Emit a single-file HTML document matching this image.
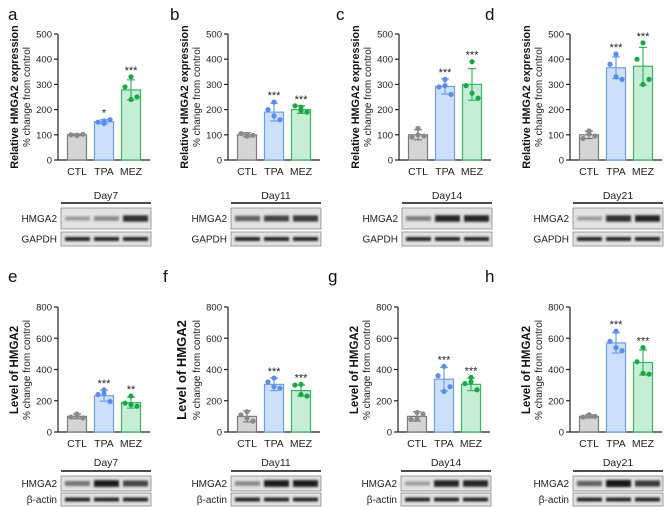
<!DOCTYPE html>
<html><head><meta charset="utf-8"><style>
body{margin:0;background:#fff}
svg{display:block;font-family:"Liberation Sans",Arial,sans-serif}
</style></head><body>
<svg id="fig" width="666" height="507" viewBox="0 0 666 507">
<defs>
<filter id="blur" x="-20%" y="-100%" width="140%" height="300%"><feGaussianBlur stdDeviation="1.1"/></filter>
</defs>
</svg>
<script>
const groups = ["CTL","TPA","MEZ"];
const panelLetters = ["a","b","c","d","e","f","g","h"];
const dayLabels = ["Day7","Day11","Day14","Day21","Day7","Day11","Day14","Day21"];
const means = [[100,152,278],[100,190,200],[100,292,300],[100,366,372],[100,232,188],[100,305,265],[100,338,305],[100,570,445]];
const sds = [[3,8,40],[8,35,15],[20,30,63],[15,43,75],[15,35,35],[35,40,35],[30,75,40],[10,65,80]];
const points = [
 [[97,100,102,99],[145,150,160,155],[330,290,250,240]],
 [[95,105,98,102],[230,200,160,175],[210,215,190,195]],
 [[125,90,95,100],[320,290,260,295],[390,295,245,265]],
 [[115,85,95,105],[420,380,320,330],[465,400,320,300]],
 [[115,95,90,100],[270,240,195,245],[230,185,165,175]],
 [[130,110,70,90],[345,320,280,290],[305,300,230,240]],
 [[125,80,115,85],[420,360,290,260],[350,310,270,320]],
 [[105,95,100,110],[645,580,520,540],[540,450,370,375]]];
const stars = [["","*","***"],["","***","***"],["","***","***"],["","***","***"],["","***","**"],["","***","***"],["","***","***"],["","***","***"]];
const topTicks = [0,100,200,300,400,500];
const botTicks = [0,200,400,600,800];
const hmgaBands = [[0.3,0.4,0.85],[0.6,0.75,0.8],[0.45,0.9,0.9],[0.3,0.85,0.9],[0.5,0.95,0.75],[0.4,0.95,0.95],[0.3,0.9,0.9],[0.6,1,0.8]];

const NS="http://www.w3.org/2000/svg";
const svg=document.getElementById('fig');
function mk(tag,attrs,parent,text){const e=document.createElementNS(NS,tag);for(const k in attrs)e.setAttribute(k,attrs[k]);if(text!==undefined)e.textContent=text;(parent||svg).appendChild(e);return e;}
const fills=["#d4d4d4","#cde0fb","#c6eed6"], strokes=["#7a7a7a","#6f9de8","#35b660"], dots=["#8a8a8a","#5a8de6","#1aa847"];
const axisXs=[58,228,399,570,58,228,398,570];
const letterX=[8,170,336,485,8,163,328,485];
const dx=[-6,-2,2,6];

for(let p=0;p<8;p++){
  const top=p<4, ax=axisXs[p];
  const y0= top?160:432, y1= top?34:307, vmax= top?500:800;
  const ticks= top?topTicks:botTicks;
  const Y=v=>y0-(v/vmax)*(y0-y1);
  const g=mk('g',{});
  
  
  const lt=mk('text',{x:letterX[p],y:top?20:282,'font-size':17,fill:'#111'},g,panelLetters[p]);
  
  const ya=mk('line',{x1:ax,y1:y1,x2:ax,y2:y0,stroke:'#222','stroke-width':1.2},g);
  
  const xa=mk('line',{x1:ax,y1:y0,x2:ax+92,y2:y0,stroke:'#222','stroke-width':1.2},g);
  
  ticks.forEach(t=>{
    mk('line',{x1:ax-4,y1:Y(t),x2:ax,y2:Y(t),stroke:'#222','stroke-width':1.2},g);
    const tl=mk('text',{x:ax-6,y:Y(t)+3.5,'font-size':9.5,'text-anchor':'end',fill:'#222'},g,t);
    
  });
  const cy=top?97:370;
  const t1=mk('text',{x:0,y:0,'font-size':top?10.8:(p===5?13:11.5),'font-weight':'bold','text-anchor':'middle',fill:'#111',transform:`translate(${ax-31-(top?9:(p===5?11:9))},${cy}) rotate(-90)`},g,top?"Relative HMGA2 expression":"Level of HMGA2");
  
  const t2=mk('text',{x:0,y:0,'font-size':10,'text-anchor':'middle',fill:'#222',transform:`translate(${ax-28},${cy}) rotate(-90)`},g,"% change from control");
  
  for(let i=0;i<3;i++){
    const cx=ax+19+i*27, m=means[p][i], s=sds[p][i];
    const b=mk('rect',{x:cx-9.5,y:Y(m),width:19,height:y0-Y(m),fill:fills[i],stroke:strokes[i],'stroke-width':1.2},g);
    
    mk('line',{x1:cx,y1:Y(m+s),x2:cx,y2:Y(m-s),stroke:strokes[i],'stroke-width':1.2},g);
    mk('line',{x1:cx-4,y1:Y(m+s),x2:cx+4,y2:Y(m+s),stroke:strokes[i],'stroke-width':1.2},g);
    mk('line',{x1:cx-4,y1:Y(m-s),x2:cx+4,y2:Y(m-s),stroke:strokes[i],'stroke-width':1.2},g);
    points[p][i].forEach((v,k)=>{
      const d=mk('circle',{cx:cx+[0,-6,6,0][k],cy:Y(v),r:2.6,fill:dots[i]},g);
      
    });
    if(stars[p][i]){
      const top2=Math.max(m+s,...points[p][i]);
      const st=mk('text',{x:cx,y:Y(top2)-3,'font-size':11,'text-anchor':'middle',fill:'#222'},g,stars[p][i]);
      
    }
    const xl=mk('text',{x:cx,y:y0+15,'font-size':10.5,'text-anchor':'middle',fill:'#222'},g,groups[i]);
    
  }
  const bx=ax+3, bw=90;
  const dayY=top?199:466, lineY=top?203:471;
  const b1=top?[208,21]:[476,15], b2=top?[232,14]:[493,13];
  const dl=mk('text',{x:bx+bw/2,y:dayY,'font-size':10.5,'text-anchor':'middle',fill:'#222'},g,dayLabels[p]);
  
  mk('line',{x1:bx,y1:lineY,x2:bx+bw,y2:lineY,stroke:'#111','stroke-width':1.5},g);
  [[b1,"HMGA2",hmgaBands[p]],[b2,top?"GAPDH":"β-actin",[0.9,0.9,0.9]]].forEach(([bb,name,ints],ri)=>{
    const r=mk('rect',{x:bx,y:bb[0],width:bw,height:bb[1],fill:'#e2e2e2',stroke:'#888','stroke-width':0.8},g);
    
    const lb=mk('text',{x:bx-4,y:bb[0]+bb[1]/2+3.5,'font-size':10,'text-anchor':'end',fill:'#222'},g,name);
    
    for(let i=0;i<3;i++){
      const h=(ri===0?3+ints[i]*4:4);
      const v=Math.round(215-ints[i]*195);
      mk('rect',{x:bx+4+i*29,y:bb[0]+bb[1]/2-h/2,width:25,height:h,fill:`rgb(${v},${v},${v})`,filter:'url(#blur)'},g);
    }
  });
}
</script>
</body></html>
